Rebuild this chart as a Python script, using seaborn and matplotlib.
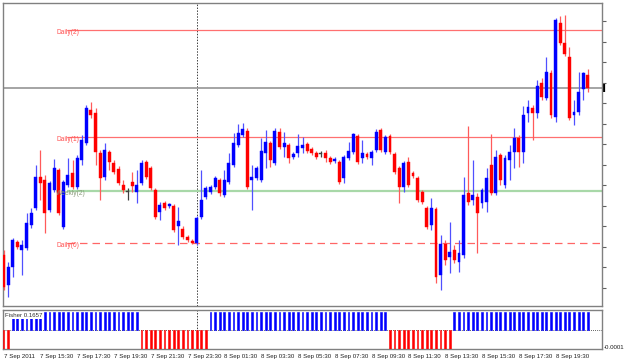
import matplotlib
matplotlib.use("Agg")
import matplotlib.pyplot as plt
import numpy as np
import pandas as pd
import seaborn as sns

# ---------------- data (M15 candles, 7 Sep 2011 13:30 -> 8 Sep 21:15) -------------
opens = [1.3945,1.3915,1.3933,1.3958,1.3950,1.3952,1.3975,1.3992,1.4023,1.4020,
         1.3990,1.4010,1.4030,1.3973,1.4015,1.4027,1.4013,1.4040,1.4057,1.4090,
         1.4087,1.4047,1.4023,1.4048,1.4037,1.4031,1.4015,1.4008,1.4018,1.4008,
         1.4017,1.4038,1.4032,1.4010,1.3988,1.3997,1.3994,1.3994,1.3974,1.3971,
         1.3963,1.3959,1.3957,1.3983,1.4003,1.4008,1.4013,1.4020,1.4005,1.4018,
         1.4035,1.4055,1.4065,1.4069,1.4020,1.4022,1.4020,1.4047,1.4057,1.4037,
         1.4068,1.4053,1.4055,1.4043,1.4047,1.4052,1.4056,1.4051,1.4047,1.4046,
         1.4047,1.4042,1.4039,1.4038,1.4022,1.4042,1.4048,1.4064,1.4042,1.4046,
         1.4042,1.4050,1.4070,1.4048,1.4064,1.4046,1.4032,1.4013,1.4038,1.4027,
         1.4022,1.4008,1.3992,1.3975,1.3991,1.3925,1.3956,1.3943,1.3950,1.3938,
         1.3945,1.4007,1.4000,1.4003,1.3997,1.3998,1.4035,1.4007,1.4045,1.4015,
         1.4040,1.4048,1.4062,1.4048,1.4087,1.4092,1.4087,1.4117,1.4102,1.4127,
         1.4083,1.4177,1.4157,1.4143,1.4085,1.4088,1.4111,1.4125]
highs = [1.3950,1.3938,1.3962,1.3960,1.3960,1.3987,1.3992,1.4035,1.4050,1.4025,
         1.4019,1.4041,1.4032,1.4020,1.4042,1.4040,1.4045,1.4065,1.4095,1.4098,
         1.4092,1.4050,1.4057,1.4050,1.4040,1.4034,1.4020,1.4012,1.4028,1.4030,
         1.4040,1.4040,1.4034,1.4012,1.3998,1.3999,1.3997,1.3996,1.3993,1.3974,
         1.3965,1.3961,1.3984,1.4030,1.4014,1.4015,1.4024,1.4022,1.4030,1.4047,
         1.4067,1.4076,1.4077,1.4072,1.4035,1.4034,1.4062,1.4070,1.4059,1.4072,
         1.4072,1.4068,1.4057,1.4048,1.4066,1.4063,1.4058,1.4053,1.4049,1.4049,
         1.4050,1.4044,1.4043,1.4040,1.4045,1.4058,1.4067,1.4066,1.4060,1.4048,
         1.4050,1.4071,1.4072,1.4065,1.4066,1.4048,1.4034,1.4039,1.4043,1.4029,
         1.4024,1.4010,1.3994,1.4002,1.3993,1.3965,1.3960,1.3978,1.3955,1.3960,
         1.4023,1.4074,1.4040,1.4007,1.4012,1.4032,1.4066,1.4050,1.4047,1.4045,
         1.4055,1.4072,1.4065,1.4094,1.4100,1.4095,1.4120,1.4122,1.4143,1.4130,
         1.4182,1.4184,1.4185,1.4153,1.4100,1.4128,1.4128,1.4131]
lows  = [1.3910,1.3903,1.3923,1.3951,1.3925,1.3950,1.3972,1.3990,1.4000,1.3967,
         1.3988,1.4008,1.3985,1.3971,1.4013,1.4011,1.4011,1.4035,1.4055,1.4082,
         1.4035,1.4000,1.4020,1.4030,1.4026,1.4015,1.4007,1.4000,1.4008,1.3997,
         1.4015,1.4021,1.4010,1.3981,1.3980,1.3990,1.3992,1.3968,1.3955,1.3961,
         1.3958,1.3956,1.3955,1.3981,1.4001,1.4006,1.4011,1.4004,1.4003,1.4016,
         1.4033,1.4053,1.4063,1.4011,1.3990,1.4020,1.4018,1.4032,1.4033,1.4035,
         1.4051,1.4043,1.4037,1.4041,1.4043,1.4047,1.4047,1.4045,1.4041,1.4043,
         1.4038,1.4036,1.4037,1.4016,1.4017,1.4040,1.4046,1.4036,1.4037,1.4041,
         1.4035,1.4048,1.4048,1.4046,1.4046,1.4026,1.3997,1.4008,1.4013,1.4022,
         1.3998,1.3996,1.3971,1.3970,1.3917,1.3910,1.3935,1.3927,1.3937,1.3928,
         1.3942,1.3995,1.3995,1.3947,1.3992,1.3988,1.4005,1.4005,1.4015,1.4012,
         1.4020,1.4032,1.4033,1.4037,1.4078,1.4060,1.4082,1.4100,1.4100,1.4082,
         1.4078,1.4155,1.4144,1.4080,1.4075,1.4085,1.4100,1.4108]
closes = [1.3913,1.3933,1.3960,1.3953,1.3955,1.3977,1.3987,1.4023,1.4017,1.3987,
          1.4017,1.4032,1.3987,1.4018,1.4025,1.4013,1.4042,1.4060,1.4092,1.4085,
          1.4048,1.4022,1.4050,1.4038,1.4028,1.4017,1.4010,1.4008,1.4014,1.4015,
          1.4037,1.4023,1.4012,1.3983,1.3995,1.3992,1.3996,1.3970,1.3979,1.3963,
          1.3960,1.3957,1.3982,1.4000,1.4012,1.4013,1.4022,1.4007,1.4020,1.4037,
          1.4057,1.4067,1.4071,1.4013,1.4023,1.4032,1.4049,1.4058,1.4040,1.4069,
          1.4053,1.4057,1.4042,1.4046,1.4054,1.4055,1.4049,1.4047,1.4043,1.4046,
          1.4042,1.4038,1.4041,1.4018,1.4043,1.4049,1.4066,1.4038,1.4047,1.4043,
          1.4048,1.4068,1.4050,1.4063,1.4048,1.4028,1.4013,1.4037,1.4015,1.4024,
          1.4000,1.3998,1.3973,1.3992,1.3923,1.3956,1.3940,1.3948,1.3940,1.3947,
          1.4005,1.3998,1.4005,1.3987,1.4010,1.4022,1.4007,1.4043,1.4020,1.4042,
          1.4048,1.4062,1.4048,1.4085,1.4093,1.4087,1.4114,1.4103,1.4128,1.4085,
          1.4180,1.4157,1.4146,1.4082,1.4088,1.4108,1.4127,1.4112]

# Fisher histogram direction (+1 blue / -1 red)
fisher_dir = [-1]*2 + [1]*28 + [-1]*15 + [1]*39 + [-1]*14 + [1]*30

tick_labels = ["7 Sep 2011", "7 Sep 15:30", "7 Sep 17:30", "7 Sep 19:30",
               "7 Sep 21:30", "7 Sep 23:30", "8 Sep 01:30", "8 Sep 03:30",
               "8 Sep 05:30", "8 Sep 07:30", "8 Sep 09:30", "8 Sep 11:30",
               "8 Sep 13:30", "8 Sep 15:30", "8 Sep 17:30", "8 Sep 19:30"]
tick_bars = [0, 8, 16, 24, 32, 40, 48, 56, 64, 72, 80, 88, 96, 104, 112, 120]

level_names = ["Daily(2)", "Daily(1)", "Weekly(2)", "Daily(0)"]
level_prices = [1.4170, 1.4063, 1.4009, 1.3957]
current_line = 1.4112
fisher_text = "Fisher 0.1657"
fisher_axis_label = "-0.0001"

# ---------------- figure ----------------
sns.set_style("white")
plt.rcParams["font.family"] = ["Liberation Sans", "DejaVu Sans"]
FS = 4.4

W, H = 625, 362
fig = plt.figure(figsize=(W / 100, H / 100), dpi=100)
fig.patch.set_facecolor("white")

def rect(x0, y0, x1, y1):
    return [x0 / W, 1 - y1 / H, (x1 - x0) / W, (y1 - y0) / H]

ax = fig.add_axes(rect(3, 3, 602, 306))
axi = fig.add_axes(rect(3, 310, 602, 349))

n = len(closes)
idx = np.arange(n)
df = pd.DataFrame({"i": idx, "o": opens, "h": highs, "l": lows, "c": closes})
df["kind"] = np.where(df["c"] > df["o"], "up", np.where(df["c"] < df["o"], "down", "doji"))

xmin, xmax = -0.11, 130.1
BLUE, RED = "#0000ff", "#ff0000"
body_col = {"up": BLUE, "down": RED, "doji": "#404040"}
wick_col = {"up": "#5050ff", "down": "#ff5a5a", "doji": "#404040"}

for kind in ["up", "down", "doji"]:
    d = df[df["kind"] == kind]
    if d.empty:
        continue
    ax.vlines(d["i"], d["l"], d["h"], color=wick_col[kind], lw=0.9, zorder=3)
    bottom = np.minimum(d["o"], d["c"])
    height = np.maximum((d["o"] - d["c"]).abs(), 0.00010)
    ax.bar(d["i"], height, bottom=bottom, width=0.62, color=body_col[kind],
           edgecolor=body_col[kind], linewidth=0.3, zorder=4)

# levels
ax.axhline(current_line, color="#8c8c8c", lw=1.1, zorder=2)
styles = {"Daily(2)": dict(color="#ff7070", lw=0.9, ls="-"),
          "Daily(1)": dict(color="#ff7070", lw=0.9, ls="-"),
          "Weekly(2)": dict(color="#a8d8a8", lw=1.6, ls="-"),
          "Daily(0)": dict(color="#ff6666", lw=0.9, ls=(0, (6, 4)))}
x_start = 13.8
for name, p in zip(level_names, level_prices):
    st = styles[name]
    ax.hlines(p, x_start, xmax, zorder=2, **st)
    tcol = "#8a9a7a" if name.startswith("Weekly") else "#ff5050"
    ax.text(11.5, p - 0.0003, name, fontsize=FS + 0.4, color=tcol,
            ha="left", va="center", zorder=5)

# day separator
for a in (ax, axi):
    a.axvline(42, color="#404040", lw=0.7, ls=(0, (1.5, 1.5)), zorder=1)

ax.set_xlim(xmin, xmax)
ax.set_ylim(1.3894, 1.4197)
ax.set_xticks([])
ax.yaxis.tick_right()
ax.set_yticks(1.4179 - 0.00205 * np.arange(14))
ax.set_yticklabels([])
ax.tick_params(axis="y", direction="out", length=3, width=0.8, color="#606060", right=True)
ax.plot([1.003], [current_line], marker="|", ms=6, mew=1.6, color="black",
        transform=ax.get_yaxis_transform(), clip_on=False)

# ---------------- indicator ----------------
fd = pd.DataFrame({"i": idx, "v": fisher_dir,
                   "side": ["up" if v > 0 else "down" for v in fisher_dir]})
for side, col in [("up", BLUE), ("down", RED)]:
    d = fd[fd["side"] == side]
    axi.bar(d["i"], d["v"], width=0.42, color=col, edgecolor=col,
            linewidth=0.4, zorder=3)
axi.axhline(0, color="#303030", lw=0.6, ls=(0, (1, 1.5)), zorder=2)
axi.set_xlim(xmin, xmax)
axi.set_ylim(-1.0, 1.1)
axi.set_ylabel("")
axi.set_xlabel("")
axi.set_yticks([])
axi.set_xticks(tick_bars)
axi.set_xticklabels(tick_labels, fontsize=FS, ha="left", color="#202020")
axi.tick_params(axis="x", direction="out", length=2, width=0.6, pad=1.8, color="#606060")
axi.text(0.004, 0.86, fisher_text, transform=axi.transAxes, fontsize=FS,
         color="#303030", ha="left", va="center", zorder=6,
         bbox=dict(facecolor="white", edgecolor="none", pad=0.6))
axi.text(1.003, 0.05, fisher_axis_label, transform=axi.transAxes, fontsize=FS,
         color="#202020", ha="left", va="center")

for a in (ax, axi):
    for s in a.spines.values():
        s.set_color("#808080")
        s.set_linewidth(1.0)
        s.set_visible(True)
    a.set_facecolor("white")

fig.savefig("out.png", dpi=100, facecolor="white")
